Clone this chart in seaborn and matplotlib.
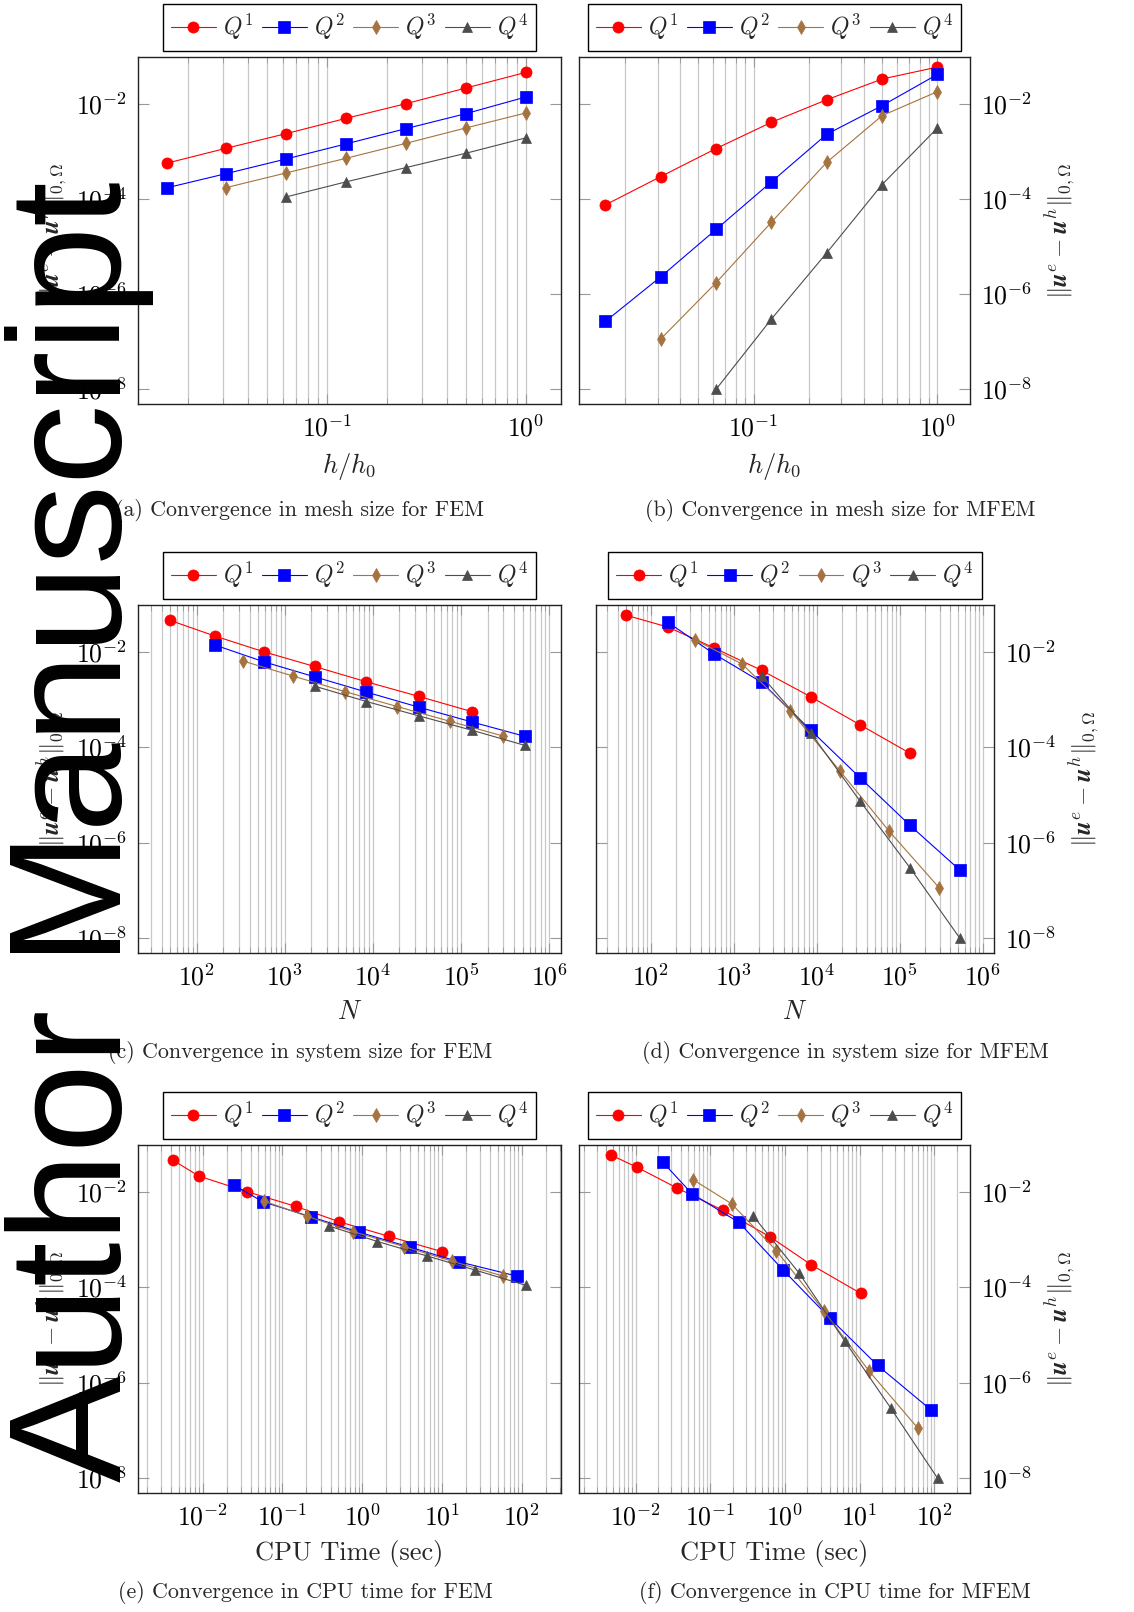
import matplotlib
matplotlib.use("Agg")
import matplotlib.pyplot as plt
import matplotlib.ticker as mticker
import numpy as np
import seaborn as sns

# mesh size h/h0, coarse -> fine
H_Q1 = [1, 1 / 2, 1 / 4, 1 / 8, 1 / 16, 1 / 32, 1 / 64]
H_Q2 = [1, 1 / 2, 1 / 4, 1 / 8, 1 / 16, 1 / 32, 1 / 64]
H_Q3 = [1, 1 / 2, 1 / 4, 1 / 8, 1 / 16, 1 / 32]
H_Q4 = [1, 1 / 2, 1 / 4, 1 / 8, 1 / 16]

# system size N
N_Q1 = [50, 162, 578, 2178, 8450, 33282, 132098]
N_Q2 = [162, 578, 2178, 8450, 33282, 132098, 526338]
N_Q3 = [338, 1250, 4802, 18818, 74498, 296450]
N_Q4 = [2178, 8450, 33282, 132098, 526338]

# CPU time (sec)
CPU_FEM_Q1 = [0.00428, 0.0090, 0.0363, 0.148, 0.516, 2.17, 9.9]
CPU_FEM_Q2 = [0.0245, 0.057, 0.228, 0.904, 3.97, 16.4, 88.0]
CPU_FEM_Q3 = [0.0587, 0.201, 0.76, 3.31, 13.4, 57.2]
CPU_FEM_Q4 = [0.387, 1.55, 6.43, 26.2, 112.0]
CPU_MFEM_Q1 = [0.00468, 0.0103, 0.0354, 0.149, 0.631, 2.26, 10.3]
CPU_MFEM_Q2 = [0.0232, 0.0568, 0.242, 0.95, 3.96, 17.4, 91.2]
CPU_MFEM_Q3 = [0.059, 0.193, 0.766, 3.3, 13.5, 59.8]
CPU_MFEM_Q4 = [0.377, 1.54, 6.37, 26.0, 111.0]

# L2 error
ERR_FEM_Q1 = [4.54e-2, 2.13e-2, 1.00e-2, 4.92e-3, 2.35e-3, 1.16e-3, 5.60e-4]
ERR_FEM_Q2 = [1.38e-2, 6.17e-3, 2.99e-3, 1.43e-3, 6.90e-4, 3.40e-4, 1.70e-4]
ERR_FEM_Q3 = [6.37e-3, 3.09e-3, 1.47e-3, 7.13e-4, 3.51e-4, 1.73e-4]
ERR_FEM_Q4 = [1.91e-3, 9.08e-4, 4.54e-4, 2.28e-4, 1.10e-4]
ERR_MFEM_Q1 = [5.87e-2, 3.29e-2, 1.21e-2, 4.06e-3, 1.14e-3, 2.94e-4, 7.48e-5]
ERR_MFEM_Q2 = [4.12e-2, 9.08e-3, 2.28e-3, 2.28e-4, 2.28e-5, 2.31e-6, 2.67e-7]
ERR_MFEM_Q3 = [1.79e-2, 5.60e-3, 5.87e-4, 3.24e-5, 1.73e-6, 1.14e-7]
ERR_MFEM_Q4 = [3.09e-3, 2.00e-4, 7.36e-6, 2.99e-7, 1.00e-8]

LABELS = [r"$Q^1$", r"$Q^2$", r"$Q^3$", r"$Q^4$"]
CAPTIONS = [
    "(a) Convergence in mesh size for FEM",
    "(b) Convergence in mesh size for MFEM",
    "(c) Convergence in system size for FEM",
    "(d) Convergence in system size for MFEM",
    "(e) Convergence in CPU time for FEM",
    "(f) Convergence in CPU time for MFEM",
]

STYLES = [
    dict(color="#ff0000", marker="o", markersize=8.0),
    dict(color="#0000ff", marker="s", markersize=8.0),
    dict(color="#a5733f", marker="d", markersize=7.5),
    dict(color="#4d4d4d", marker="^", markersize=7.0),
]

W, H = 1134, 1612
YLABEL = r"$\|\boldsymbol{u}^e - \boldsymbol{u}^h\|_{0,\Omega}$"

sns.set_theme(style="white")
plt.rcParams["mathtext.fontset"] = "cm"
plt.rcParams["font.family"] = ["cmr10", "DejaVu Serif"]
plt.rcParams["axes.formatter.use_mathtext"] = True


def _rect(l, r, t, b):
    return [l / W, 1 - b / H, (r - l) / W, (b - t) / H]


def _dec(v, pos):
    return r"$10^{%d}$" % int(round(np.log10(v)))


def draw_panel(fig, box, xs, errs, xlim, xlabel, side):
    ax = fig.add_axes(_rect(*box))
    for x, y, lab, st in zip(xs, errs, LABELS, STYLES):
        sns.lineplot(
            x=x, y=y, ax=ax, label=lab, sort=False, errorbar=None,
            color=st["color"], marker=st["marker"], markersize=st["markersize"],
            markeredgecolor=st["color"], markeredgewidth=0.5, linewidth=0.8,
        )
    ax.set_xscale("log")
    ax.set_yscale("log")
    ax.set_xlim(10 ** xlim[0], 10 ** xlim[1])
    ax.set_ylim(10 ** -8.31, 10 ** -1.02)

    ax.xaxis.set_major_locator(mticker.LogLocator(base=10, numticks=20))
    ax.xaxis.set_minor_locator(mticker.LogLocator(base=10, subs=np.arange(2, 10), numticks=50))
    ax.xaxis.set_major_formatter(mticker.FuncFormatter(_dec))
    ax.xaxis.set_minor_formatter(mticker.NullFormatter())
    ax.yaxis.set_major_locator(mticker.FixedLocator([1e-8, 1e-6, 1e-4, 1e-2]))
    ax.yaxis.set_minor_locator(mticker.NullLocator())
    ax.yaxis.set_major_formatter(mticker.FuncFormatter(_dec))

    ax.grid(True, which="both", axis="x", color="#c8c8c8", linewidth=0.9)
    ax.grid(False, axis="y")
    ax.tick_params(axis="both", which="both", direction="in", colors="#999999",
                   labelcolor="black", labelsize=18.5, pad=8)
    ax.tick_params(axis="x", which="both", top=True, bottom=True)
    ax.tick_params(axis="x", which="major", length=7, width=0.8)
    ax.tick_params(axis="x", which="minor", length=4, width=0.6)
    ax.tick_params(axis="y", which="major", left=True, right=True, length=8, width=0.8)
    for s in ax.spines.values():
        s.set_color("#222222")
        s.set_linewidth(1.0)

    ax.set_xlabel(xlabel, fontsize=19, labelpad=7)
    if side == "right":
        ax.tick_params(axis="y", labelleft=False, labelright=True)
        ax.yaxis.set_label_position("right")
        ax.set_ylabel(YLABEL, fontsize=18, labelpad=8)
    else:
        ax.set_ylabel(YLABEL, fontsize=18, labelpad=4)

    ax.legend(
        loc="lower center", bbox_to_anchor=(0.5, 1.018), ncol=4, fontsize=17,
        frameon=True, fancybox=False, edgecolor="black", framealpha=1.0,
        borderpad=0.35, handlelength=1.9, handletextpad=0.3, columnspacing=0.35,
        borderaxespad=0.0,
    )
    ax.get_legend().get_frame().set_linewidth(1.0)
    return ax


def main():
    fig = plt.figure(figsize=(W / 100, H / 100), dpi=100)

    fem_err = [ERR_FEM_Q1, ERR_FEM_Q2, ERR_FEM_Q3, ERR_FEM_Q4]
    mfem_err = [ERR_MFEM_Q1, ERR_MFEM_Q2, ERR_MFEM_Q3, ERR_MFEM_Q4]
    hs = [H_Q1, H_Q2, H_Q3, H_Q4]
    ns = [N_Q1, N_Q2, N_Q3, N_Q4]
    cpu_fem = [CPU_FEM_Q1, CPU_FEM_Q2, CPU_FEM_Q3, CPU_FEM_Q4]
    cpu_mfem = [CPU_MFEM_Q1, CPU_MFEM_Q2, CPU_MFEM_Q3, CPU_MFEM_Q4]

    draw_panel(fig, (138, 561, 57, 404), hs, fem_err, (-1.95, 0.177), r"$h/h_0$", "left")
    draw_panel(fig, (579, 970, 57, 404), hs, mfem_err, (-1.95, 0.177), r"$h/h_0$", "right")
    draw_panel(fig, (138, 561, 605, 953), ns, fem_err, (1.334, 6.135), r"$N$", "left")
    draw_panel(fig, (596, 994, 605, 953), ns, mfem_err, (1.343, 6.132), r"$N$", "right")
    draw_panel(fig, (138, 561, 1145, 1493), cpu_fem, fem_err, (-2.81, 2.49), "CPU Time (sec)", "left")
    draw_panel(fig, (579, 970, 1145, 1493), cpu_mfem, mfem_err, (-2.76, 2.48), "CPU Time (sec)", "right")

    cap_y = [510, 510, 1052, 1052, 1593, 1593]
    cap_x = [300, 840, 300, 845, 305, 835]
    for txt, cx, cy in zip(CAPTIONS, cap_x, cap_y):
        fig.text(cx / W, 1 - cy / H, txt, ha="center", va="center", fontsize=15.8,
                 family=["cmr10", "DejaVu Serif"])

    # watermark
    fig.text(121 / W, 1 - 1482 / H, "Author Manuscript", rotation=90,
             rotation_mode="anchor", ha="left", va="baseline", fontsize=115.5,
             family=["Liberation Sans", "DejaVu Sans"], color="black", zorder=20)

    fig.savefig("out.png", dpi=100)
    plt.close(fig)


if __name__ == "__main__":
    main()
